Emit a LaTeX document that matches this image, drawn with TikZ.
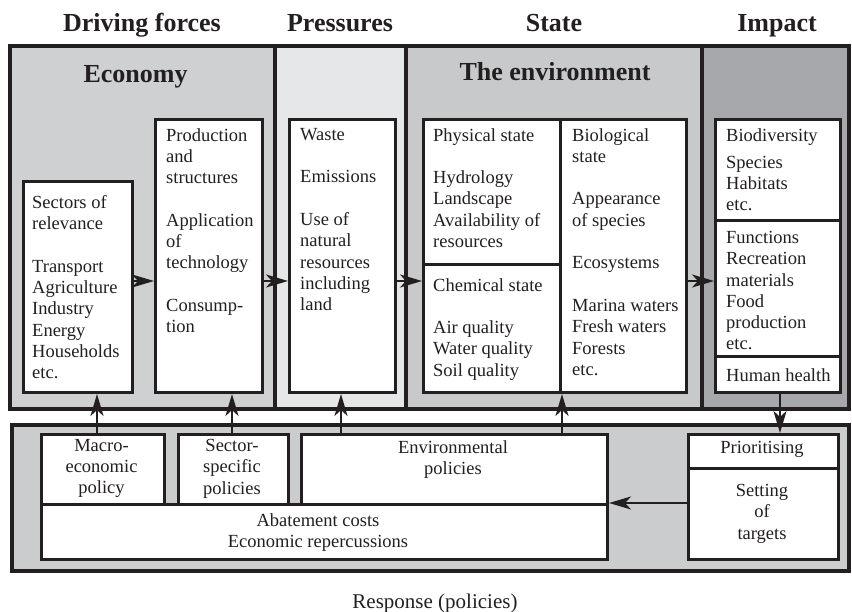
\documentclass[tikz,border=0pt]{standalone}
\usepackage{fontspec}
\setmainfont{Liberation Serif}
\usetikzlibrary{arrows.meta}
\definecolor{fDF}{HTML}{CFD0D2}
\definecolor{fP}{HTML}{E6E7E8}
\definecolor{fS}{HTML}{C8C9CB}
\definecolor{fI}{HTML}{A6A8AB}
\definecolor{fR}{HTML}{CBCCCE}
\definecolor{ink}{HTML}{231F20}
\begin{document}
\begin{tikzpicture}[x=1pt,y=-1pt,
  panel/.style={draw=ink, line width=3.2pt},
  box/.style={draw=ink, fill=white, line width=3pt, anchor=north west, inner sep=0pt},
  txt/.style={inner sep=0pt, text=ink, font=\fontsize{18.5}{21.3}\selectfont, align=left, anchor=north west},
  ctxt/.style={inner sep=0pt, text=ink, font=\fontsize{18.5}{21.3}\selectfont, align=center, anchor=north},
  head/.style={inner sep=0pt, text=ink, font=\fontsize{26}{30}\selectfont\bfseries, anchor=base},
  arr/.style={draw=ink, line width=2.4pt, -{Stealth[length=22pt,width=13pt,inset=6pt]}}]
\useasboundingbox (0,0) rectangle (852,612);
% panels
\fill[fDF] (10,46) rectangle (275,409);
\fill[fP] (275,46) rectangle (406,409);
\fill[fS] (406,46) rectangle (702,409);
\fill[fI] (702,46) rectangle (849,409);
\draw[panel] (10,46) rectangle (849,409);
\draw[panel] (275,46) -- (275,409);
\draw[panel] (406,46) -- (406,409);
\draw[panel] (702,46) -- (702,409);
\filldraw[panel, fill=fR] (12,425) rectangle (849,571);
% headings
\node[head] (hdf) at (142,32) {Driving forces};
\node[head] (hp) at (340,32) {Pressures};
\node[head] (hs) at (554,32) {State};
\node[head] (hi) at (777,32) {Impact};
\node[head] (heco) at (135.5,83) {Economy};
\node[head] (henv) at (555,81) {The environment};
% boxes
\node[box, minimum width=109pt, minimum height=211pt] (sect) at (22,180) {};
\node[box, minimum width=107pt, minimum height=273pt] (prod) at (154,118) {};
\node[box, minimum width=106pt, minimum height=273pt] (waste) at (288,118) {};
\node[box, minimum width=137pt, minimum height=145pt] (phys) at (422,118) {};
\node[box, minimum width=137pt, minimum height=128pt] (chem) at (422,263) {};
\node[box, minimum width=126pt, minimum height=273pt] (bio) at (559,118) {};
\node[box, minimum width=125pt, minimum height=101pt] (biod) at (714,118) {};
\node[box, minimum width=125pt, minimum height=136pt] (func) at (714,219) {};
\node[box, minimum width=125pt, minimum height=36pt] (hh) at (714,355) {};
\node[box, minimum width=123pt, minimum height=70pt] (macro) at (40,433) {};
\node[box, minimum width=110pt, minimum height=70pt] (secpol) at (177,433) {};
\node[box, minimum width=306pt, minimum height=70pt] (envpol) at (300,433) {};
\node[box, minimum width=566pt, minimum height=55pt] (abate) at (40,503) {};
\node[box, minimum width=150pt, minimum height=34pt] (prio) at (687,433) {};
\node[box, minimum width=150pt, minimum height=91pt] (sett) at (687,467) {};
% connector helper coordinates
\coordinate (h) at (0,281);
\coordinate (v1) at (97,0);
\coordinate (v2) at (232,0);
\coordinate (v3) at (341,0);
\coordinate (v4) at (562,0);
\coordinate (v5) at (780,0);
% arrows
\draw[arr] (sect.east |- h) -- (prod.west |- h);
\draw[arr] (prod.east |- h) -- (waste.west |- h);
\draw[arr] (waste.east |- h) -- (chem.west |- h);
\draw[arr] (bio.east |- h) -- (func.west |- h);
\draw[arr] (macro.north -| v1) -- (sect.south -| v1);
\draw[arr] (secpol.north -| v2) -- (prod.south -| v2);
\draw[arr] (envpol.north -| v3) -- (waste.south -| v3);
\draw[arr] (envpol.north -| v4) -- (bio.south -| v4);
\draw[arr] (hh.south -| v5) -- (prio.north -| v5);
\draw[arr] (sett.west |- abate.north) -- (abate.north east);
% texts
\node[txt] (tsect) at (32,195) {Sectors of\\relevance\\[21.3pt]Transport\\Agriculture\\Industry\\Energy\\Households\\etc.};
\node[txt] (tprod) at (166,128) {Production\\and\\structures\\[21.3pt]Application\\of\\technology\\[21.3pt]Consump-\\tion};
\node[txt] (twaste) at (300,128) {Waste\\[21.3pt]Emissions\\[21.3pt]Use of\\natural\\resources\\including\\land};
\node[txt] (tphys) at (433,128) {Physical state\\[21.3pt]Hydrology\\Landscape\\Availability of\\resources};
\node[txt] (tchem) at (433,278) {Chemical state\\[21.3pt]Air quality\\Water quality\\Soil quality};
\node[txt] (tbio) at (572,128) {Biological\\state\\[21.3pt]Appearance\\of species\\[21.3pt]Ecosystems\\[21.3pt]Marina waters\\Fresh waters\\Forests\\etc.};
\node[txt] (tbiod) at (726,128) {Biodiversity\\[5.7pt]Species\\Habitats\\etc.};
\node[txt] (tfunc) at (726,231) {Functions\\Recreation\\materials\\Food\\production\\etc.};
\node[txt] (thh) at (726,368) {Human health};
\node[ctxt] (tmacro) at (101.5,439) {Macro-\\economic\\policy};
\node[ctxt] (tsecpol) at (232,439) {Sector-\\specific\\policies};
\node[ctxt] (tenvpol) at (453,440) {Environmental\\policies};
\node[ctxt] (tabate) at (318,513) {Abatement costs\\Economic repercussions};
\node[ctxt] (tprio) at (762,441.5) {Prioritising};
\node[ctxt] (tsett) at (762,484) {Setting\\of\\targets};
\node[inner sep=0pt, text=ink, font=\fontsize{21}{25}\selectfont, anchor=base] (tresp) at (435,608) {Response (policies)};
\end{tikzpicture}
\end{document}
